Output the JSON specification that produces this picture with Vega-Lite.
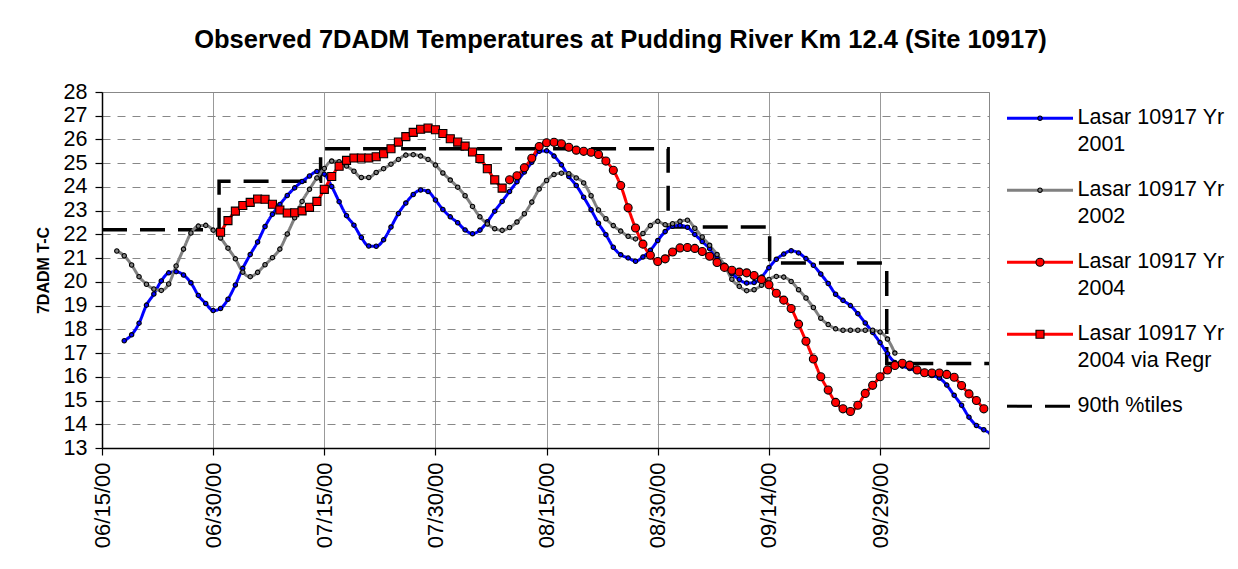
{
"$schema": "https://vega.github.io/schema/vega-lite/v6.json",
"width": 887, "height": 356,
"autosize": {"type": "none"},
"padding": {"left": 102, "top": 92, "right": 249, "bottom": 121},
"background": "white",
"title": {"text": "Observed 7DADM Temperatures at Pudding River Km 12.4 (Site 10917)", "font": "Liberation Sans", "fontSize": 25.5, "fontWeight": "bold", "color": "black", "anchor": "middle", "frame": "group", "dx": 75, "offset": 28},
"config": {"view": {"stroke": "#888", "strokeWidth": 1}, "font": "Liberation Sans"},
"datasets": {
"p90": [
{"s":"90th %tiles","d":0,"v":22.2},{"s":"90th %tiles","d":15.8,"v":24.24},{"s":"90th %tiles","d":29.5,"v":25.61},{"s":"90th %tiles","d":76.4,"v":22.31},{"s":"90th %tiles","d":90.1,"v":20.8},{"s":"90th %tiles","d":105.9,"v":16.56},{"s":"90th %tiles","d":119.7,"v":16.56}
],
"obs": [
{"s":"Lasar 10917 Yr 2001","d":3,"v":17.52},{"s":"Lasar 10917 Yr 2001","d":4,"v":17.77},{"s":"Lasar 10917 Yr 2001","d":5,"v":18.26},{"s":"Lasar 10917 Yr 2001","d":6,"v":19.02},{"s":"Lasar 10917 Yr 2001","d":7,"v":19.49},{"s":"Lasar 10917 Yr 2001","d":8,"v":20.04},{"s":"Lasar 10917 Yr 2001","d":9,"v":20.38},{"s":"Lasar 10917 Yr 2001","d":10,"v":20.43},{"s":"Lasar 10917 Yr 2001","d":11,"v":20.29},{"s":"Lasar 10917 Yr 2001","d":12,"v":19.96},{"s":"Lasar 10917 Yr 2001","d":13,"v":19.43},{"s":"Lasar 10917 Yr 2001","d":14,"v":19.09},{"s":"Lasar 10917 Yr 2001","d":15,"v":18.79},{"s":"Lasar 10917 Yr 2001","d":16,"v":18.88},{"s":"Lasar 10917 Yr 2001","d":17,"v":19.27},{"s":"Lasar 10917 Yr 2001","d":18,"v":19.87},{"s":"Lasar 10917 Yr 2001","d":19,"v":20.57},{"s":"Lasar 10917 Yr 2001","d":20,"v":21.15},{"s":"Lasar 10917 Yr 2001","d":21,"v":21.68},{"s":"Lasar 10917 Yr 2001","d":22,"v":22.33},{"s":"Lasar 10917 Yr 2001","d":23,"v":22.85},{"s":"Lasar 10917 Yr 2001","d":24,"v":23.26},{"s":"Lasar 10917 Yr 2001","d":25,"v":23.64},{"s":"Lasar 10917 Yr 2001","d":26,"v":23.96},{"s":"Lasar 10917 Yr 2001","d":27,"v":24.23},{"s":"Lasar 10917 Yr 2001","d":28,"v":24.46},{"s":"Lasar 10917 Yr 2001","d":29,"v":24.65},{"s":"Lasar 10917 Yr 2001","d":30,"v":24.54},{"s":"Lasar 10917 Yr 2001","d":31,"v":24.02},{"s":"Lasar 10917 Yr 2001","d":32,"v":23.38},{"s":"Lasar 10917 Yr 2001","d":33,"v":22.79},{"s":"Lasar 10917 Yr 2001","d":34,"v":22.39},{"s":"Lasar 10917 Yr 2001","d":35,"v":21.87},{"s":"Lasar 10917 Yr 2001","d":36,"v":21.51},{"s":"Lasar 10917 Yr 2001","d":37,"v":21.5},{"s":"Lasar 10917 Yr 2001","d":38,"v":21.77},{"s":"Lasar 10917 Yr 2001","d":39,"v":22.31},{"s":"Lasar 10917 Yr 2001","d":40,"v":22.88},{"s":"Lasar 10917 Yr 2001","d":41,"v":23.32},{"s":"Lasar 10917 Yr 2001","d":42,"v":23.68},{"s":"Lasar 10917 Yr 2001","d":43,"v":23.87},{"s":"Lasar 10917 Yr 2001","d":44,"v":23.81},{"s":"Lasar 10917 Yr 2001","d":45,"v":23.45},{"s":"Lasar 10917 Yr 2001","d":46,"v":23.05},{"s":"Lasar 10917 Yr 2001","d":47,"v":22.74},{"s":"Lasar 10917 Yr 2001","d":48,"v":22.49},{"s":"Lasar 10917 Yr 2001","d":49,"v":22.19},{"s":"Lasar 10917 Yr 2001","d":50,"v":22.03},{"s":"Lasar 10917 Yr 2001","d":51,"v":22.18},{"s":"Lasar 10917 Yr 2001","d":52,"v":22.53},{"s":"Lasar 10917 Yr 2001","d":53,"v":22.98},{"s":"Lasar 10917 Yr 2001","d":54,"v":23.39},{"s":"Lasar 10917 Yr 2001","d":55,"v":23.81},{"s":"Lasar 10917 Yr 2001","d":56,"v":24.22},{"s":"Lasar 10917 Yr 2001","d":57,"v":24.63},{"s":"Lasar 10917 Yr 2001","d":58,"v":25.04},{"s":"Lasar 10917 Yr 2001","d":59,"v":25.5},{"s":"Lasar 10917 Yr 2001","d":60,"v":25.52},{"s":"Lasar 10917 Yr 2001","d":61,"v":25.3},{"s":"Lasar 10917 Yr 2001","d":62,"v":24.93},{"s":"Lasar 10917 Yr 2001","d":63,"v":24.44},{"s":"Lasar 10917 Yr 2001","d":64,"v":24.06},{"s":"Lasar 10917 Yr 2001","d":65,"v":23.57},{"s":"Lasar 10917 Yr 2001","d":66,"v":23.04},{"s":"Lasar 10917 Yr 2001","d":67,"v":22.47},{"s":"Lasar 10917 Yr 2001","d":68,"v":21.99},{"s":"Lasar 10917 Yr 2001","d":69,"v":21.46},{"s":"Lasar 10917 Yr 2001","d":70,"v":21.14},{"s":"Lasar 10917 Yr 2001","d":71,"v":21.01},{"s":"Lasar 10917 Yr 2001","d":72,"v":20.87},{"s":"Lasar 10917 Yr 2001","d":73,"v":21.05},{"s":"Lasar 10917 Yr 2001","d":74,"v":21.33},{"s":"Lasar 10917 Yr 2001","d":75,"v":21.74},{"s":"Lasar 10917 Yr 2001","d":76,"v":22.12},{"s":"Lasar 10917 Yr 2001","d":77,"v":22.34},{"s":"Lasar 10917 Yr 2001","d":78,"v":22.38},{"s":"Lasar 10917 Yr 2001","d":79,"v":22.3},{"s":"Lasar 10917 Yr 2001","d":80,"v":22.0},{"s":"Lasar 10917 Yr 2001","d":81,"v":21.7},{"s":"Lasar 10917 Yr 2001","d":82,"v":21.4},{"s":"Lasar 10917 Yr 2001","d":83,"v":21.02},{"s":"Lasar 10917 Yr 2001","d":84,"v":20.68},{"s":"Lasar 10917 Yr 2001","d":85,"v":20.35},{"s":"Lasar 10917 Yr 2001","d":86,"v":20.1},{"s":"Lasar 10917 Yr 2001","d":87,"v":19.95},{"s":"Lasar 10917 Yr 2001","d":88,"v":19.97},{"s":"Lasar 10917 Yr 2001","d":89,"v":20.2},{"s":"Lasar 10917 Yr 2001","d":90,"v":20.6},{"s":"Lasar 10917 Yr 2001","d":91,"v":20.95},{"s":"Lasar 10917 Yr 2001","d":92,"v":21.17},{"s":"Lasar 10917 Yr 2001","d":93,"v":21.31},{"s":"Lasar 10917 Yr 2001","d":94,"v":21.22},{"s":"Lasar 10917 Yr 2001","d":95,"v":20.98},{"s":"Lasar 10917 Yr 2001","d":96,"v":20.7},{"s":"Lasar 10917 Yr 2001","d":97,"v":20.33},{"s":"Lasar 10917 Yr 2001","d":98,"v":19.93},{"s":"Lasar 10917 Yr 2001","d":99,"v":19.48},{"s":"Lasar 10917 Yr 2001","d":100,"v":19.22},{"s":"Lasar 10917 Yr 2001","d":101,"v":19.0},{"s":"Lasar 10917 Yr 2001","d":102,"v":18.66},{"s":"Lasar 10917 Yr 2001","d":103,"v":18.27},{"s":"Lasar 10917 Yr 2001","d":104,"v":17.87},{"s":"Lasar 10917 Yr 2001","d":105,"v":17.44},{"s":"Lasar 10917 Yr 2001","d":106,"v":16.97},{"s":"Lasar 10917 Yr 2001","d":107,"v":16.6},{"s":"Lasar 10917 Yr 2001","d":108,"v":16.45},{"s":"Lasar 10917 Yr 2001","d":109,"v":16.35},{"s":"Lasar 10917 Yr 2001","d":110,"v":16.25},{"s":"Lasar 10917 Yr 2001","d":111,"v":16.15},{"s":"Lasar 10917 Yr 2001","d":112,"v":16.05},{"s":"Lasar 10917 Yr 2001","d":113,"v":15.95},{"s":"Lasar 10917 Yr 2001","d":114,"v":15.65},{"s":"Lasar 10917 Yr 2001","d":115,"v":15.22},{"s":"Lasar 10917 Yr 2001","d":116,"v":14.8},{"s":"Lasar 10917 Yr 2001","d":117,"v":14.3},{"s":"Lasar 10917 Yr 2001","d":118,"v":13.95},{"s":"Lasar 10917 Yr 2001","d":119,"v":13.77},{"s":"Lasar 10917 Yr 2001","d":120,"v":13.6},
{"s":"Lasar 10917 Yr 2002","d":2,"v":21.3},{"s":"Lasar 10917 Yr 2002","d":3,"v":21.1},{"s":"Lasar 10917 Yr 2002","d":4,"v":20.71},{"s":"Lasar 10917 Yr 2002","d":5,"v":20.22},{"s":"Lasar 10917 Yr 2002","d":6,"v":19.9},{"s":"Lasar 10917 Yr 2002","d":7,"v":19.7},{"s":"Lasar 10917 Yr 2002","d":8,"v":19.64},{"s":"Lasar 10917 Yr 2002","d":9,"v":19.91},{"s":"Lasar 10917 Yr 2002","d":10,"v":20.67},{"s":"Lasar 10917 Yr 2002","d":11,"v":21.38},{"s":"Lasar 10917 Yr 2002","d":12,"v":22.06},{"s":"Lasar 10917 Yr 2002","d":13,"v":22.35},{"s":"Lasar 10917 Yr 2002","d":14,"v":22.38},{"s":"Lasar 10917 Yr 2002","d":15,"v":22.18},{"s":"Lasar 10917 Yr 2002","d":16,"v":21.85},{"s":"Lasar 10917 Yr 2002","d":17,"v":21.42},{"s":"Lasar 10917 Yr 2002","d":18,"v":20.97},{"s":"Lasar 10917 Yr 2002","d":19,"v":20.41},{"s":"Lasar 10917 Yr 2002","d":20,"v":20.22},{"s":"Lasar 10917 Yr 2002","d":21,"v":20.4},{"s":"Lasar 10917 Yr 2002","d":22,"v":20.72},{"s":"Lasar 10917 Yr 2002","d":23,"v":21.02},{"s":"Lasar 10917 Yr 2002","d":24,"v":21.38},{"s":"Lasar 10917 Yr 2002","d":25,"v":22.02},{"s":"Lasar 10917 Yr 2002","d":26,"v":22.7},{"s":"Lasar 10917 Yr 2002","d":27,"v":23.39},{"s":"Lasar 10917 Yr 2002","d":28,"v":23.9},{"s":"Lasar 10917 Yr 2002","d":29,"v":24.38},{"s":"Lasar 10917 Yr 2002","d":30,"v":24.78},{"s":"Lasar 10917 Yr 2002","d":31,"v":25.09},{"s":"Lasar 10917 Yr 2002","d":32,"v":25.06},{"s":"Lasar 10917 Yr 2002","d":33,"v":24.88},{"s":"Lasar 10917 Yr 2002","d":34,"v":24.66},{"s":"Lasar 10917 Yr 2002","d":35,"v":24.4},{"s":"Lasar 10917 Yr 2002","d":36,"v":24.4},{"s":"Lasar 10917 Yr 2002","d":37,"v":24.61},{"s":"Lasar 10917 Yr 2002","d":38,"v":24.77},{"s":"Lasar 10917 Yr 2002","d":39,"v":24.96},{"s":"Lasar 10917 Yr 2002","d":40,"v":25.16},{"s":"Lasar 10917 Yr 2002","d":41,"v":25.34},{"s":"Lasar 10917 Yr 2002","d":42,"v":25.36},{"s":"Lasar 10917 Yr 2002","d":43,"v":25.3},{"s":"Lasar 10917 Yr 2002","d":44,"v":25.16},{"s":"Lasar 10917 Yr 2002","d":45,"v":24.92},{"s":"Lasar 10917 Yr 2002","d":46,"v":24.59},{"s":"Lasar 10917 Yr 2002","d":47,"v":24.29},{"s":"Lasar 10917 Yr 2002","d":48,"v":23.99},{"s":"Lasar 10917 Yr 2002","d":49,"v":23.63},{"s":"Lasar 10917 Yr 2002","d":50,"v":23.18},{"s":"Lasar 10917 Yr 2002","d":51,"v":22.74},{"s":"Lasar 10917 Yr 2002","d":52,"v":22.44},{"s":"Lasar 10917 Yr 2002","d":53,"v":22.24},{"s":"Lasar 10917 Yr 2002","d":54,"v":22.17},{"s":"Lasar 10917 Yr 2002","d":55,"v":22.29},{"s":"Lasar 10917 Yr 2002","d":56,"v":22.52},{"s":"Lasar 10917 Yr 2002","d":57,"v":22.87},{"s":"Lasar 10917 Yr 2002","d":58,"v":23.36},{"s":"Lasar 10917 Yr 2002","d":59,"v":23.91},{"s":"Lasar 10917 Yr 2002","d":60,"v":24.27},{"s":"Lasar 10917 Yr 2002","d":61,"v":24.52},{"s":"Lasar 10917 Yr 2002","d":62,"v":24.58},{"s":"Lasar 10917 Yr 2002","d":63,"v":24.56},{"s":"Lasar 10917 Yr 2002","d":64,"v":24.38},{"s":"Lasar 10917 Yr 2002","d":65,"v":24.17},{"s":"Lasar 10917 Yr 2002","d":66,"v":23.63},{"s":"Lasar 10917 Yr 2002","d":67,"v":23.03},{"s":"Lasar 10917 Yr 2002","d":68,"v":22.66},{"s":"Lasar 10917 Yr 2002","d":69,"v":22.37},{"s":"Lasar 10917 Yr 2002","d":70,"v":22.14},{"s":"Lasar 10917 Yr 2002","d":71,"v":21.92},{"s":"Lasar 10917 Yr 2002","d":72,"v":21.81},{"s":"Lasar 10917 Yr 2002","d":73,"v":22.04},{"s":"Lasar 10917 Yr 2002","d":74,"v":22.37},{"s":"Lasar 10917 Yr 2002","d":75,"v":22.55},{"s":"Lasar 10917 Yr 2002","d":76,"v":22.41},{"s":"Lasar 10917 Yr 2002","d":77,"v":22.45},{"s":"Lasar 10917 Yr 2002","d":78,"v":22.55},{"s":"Lasar 10917 Yr 2002","d":79,"v":22.6},{"s":"Lasar 10917 Yr 2002","d":80,"v":22.26},{"s":"Lasar 10917 Yr 2002","d":81,"v":21.89},{"s":"Lasar 10917 Yr 2002","d":82,"v":21.54},{"s":"Lasar 10917 Yr 2002","d":83,"v":21.15},{"s":"Lasar 10917 Yr 2002","d":84,"v":20.7},{"s":"Lasar 10917 Yr 2002","d":85,"v":20.11},{"s":"Lasar 10917 Yr 2002","d":86,"v":19.81},{"s":"Lasar 10917 Yr 2002","d":87,"v":19.63},{"s":"Lasar 10917 Yr 2002","d":88,"v":19.67},{"s":"Lasar 10917 Yr 2002","d":89,"v":19.86},{"s":"Lasar 10917 Yr 2002","d":90,"v":20.1},{"s":"Lasar 10917 Yr 2002","d":91,"v":20.23},{"s":"Lasar 10917 Yr 2002","d":92,"v":20.2},{"s":"Lasar 10917 Yr 2002","d":93,"v":20.02},{"s":"Lasar 10917 Yr 2002","d":94,"v":19.67},{"s":"Lasar 10917 Yr 2002","d":95,"v":19.32},{"s":"Lasar 10917 Yr 2002","d":96,"v":18.92},{"s":"Lasar 10917 Yr 2002","d":97,"v":18.47},{"s":"Lasar 10917 Yr 2002","d":98,"v":18.2},{"s":"Lasar 10917 Yr 2002","d":99,"v":18.02},{"s":"Lasar 10917 Yr 2002","d":100,"v":17.96},{"s":"Lasar 10917 Yr 2002","d":101,"v":17.96},{"s":"Lasar 10917 Yr 2002","d":102,"v":17.96},{"s":"Lasar 10917 Yr 2002","d":103,"v":17.96},{"s":"Lasar 10917 Yr 2002","d":104,"v":17.96},{"s":"Lasar 10917 Yr 2002","d":105,"v":17.89},{"s":"Lasar 10917 Yr 2002","d":106,"v":17.59},{"s":"Lasar 10917 Yr 2002","d":107,"v":17.0},
{"s":"Lasar 10917 Yr 2004 via Regr","d":16,"v":22.09},{"s":"Lasar 10917 Yr 2004 via Regr","d":17,"v":22.58},{"s":"Lasar 10917 Yr 2004 via Regr","d":18,"v":22.98},{"s":"Lasar 10917 Yr 2004 via Regr","d":19,"v":23.22},{"s":"Lasar 10917 Yr 2004 via Regr","d":20,"v":23.35},{"s":"Lasar 10917 Yr 2004 via Regr","d":21,"v":23.49},{"s":"Lasar 10917 Yr 2004 via Regr","d":22,"v":23.48},{"s":"Lasar 10917 Yr 2004 via Regr","d":23,"v":23.27},{"s":"Lasar 10917 Yr 2004 via Regr","d":24,"v":23.03},{"s":"Lasar 10917 Yr 2004 via Regr","d":25,"v":22.9},{"s":"Lasar 10917 Yr 2004 via Regr","d":26,"v":22.91},{"s":"Lasar 10917 Yr 2004 via Regr","d":27,"v":22.99},{"s":"Lasar 10917 Yr 2004 via Regr","d":28,"v":23.14},{"s":"Lasar 10917 Yr 2004 via Regr","d":29,"v":23.39},{"s":"Lasar 10917 Yr 2004 via Regr","d":30,"v":23.9},{"s":"Lasar 10917 Yr 2004 via Regr","d":31,"v":24.44},{"s":"Lasar 10917 Yr 2004 via Regr","d":32,"v":24.87},{"s":"Lasar 10917 Yr 2004 via Regr","d":33,"v":25.12},{"s":"Lasar 10917 Yr 2004 via Regr","d":34,"v":25.22},{"s":"Lasar 10917 Yr 2004 via Regr","d":35,"v":25.22},{"s":"Lasar 10917 Yr 2004 via Regr","d":36,"v":25.22},{"s":"Lasar 10917 Yr 2004 via Regr","d":37,"v":25.27},{"s":"Lasar 10917 Yr 2004 via Regr","d":38,"v":25.4},{"s":"Lasar 10917 Yr 2004 via Regr","d":39,"v":25.61},{"s":"Lasar 10917 Yr 2004 via Regr","d":40,"v":25.89},{"s":"Lasar 10917 Yr 2004 via Regr","d":41,"v":26.12},{"s":"Lasar 10917 Yr 2004 via Regr","d":42,"v":26.3},{"s":"Lasar 10917 Yr 2004 via Regr","d":43,"v":26.43},{"s":"Lasar 10917 Yr 2004 via Regr","d":44,"v":26.48},{"s":"Lasar 10917 Yr 2004 via Regr","d":45,"v":26.41},{"s":"Lasar 10917 Yr 2004 via Regr","d":46,"v":26.25},{"s":"Lasar 10917 Yr 2004 via Regr","d":47,"v":26.03},{"s":"Lasar 10917 Yr 2004 via Regr","d":48,"v":25.89},{"s":"Lasar 10917 Yr 2004 via Regr","d":49,"v":25.72},{"s":"Lasar 10917 Yr 2004 via Regr","d":50,"v":25.47},{"s":"Lasar 10917 Yr 2004 via Regr","d":51,"v":25.2},{"s":"Lasar 10917 Yr 2004 via Regr","d":52,"v":24.77},{"s":"Lasar 10917 Yr 2004 via Regr","d":53,"v":24.3},{"s":"Lasar 10917 Yr 2004 via Regr","d":54,"v":23.95},
{"s":"Lasar 10917 Yr 2004","d":55,"v":24.3},{"s":"Lasar 10917 Yr 2004","d":56,"v":24.47},{"s":"Lasar 10917 Yr 2004","d":57,"v":24.81},{"s":"Lasar 10917 Yr 2004","d":58,"v":25.21},{"s":"Lasar 10917 Yr 2004","d":59,"v":25.7},{"s":"Lasar 10917 Yr 2004","d":60,"v":25.86},{"s":"Lasar 10917 Yr 2004","d":61,"v":25.88},{"s":"Lasar 10917 Yr 2004","d":62,"v":25.82},{"s":"Lasar 10917 Yr 2004","d":63,"v":25.67},{"s":"Lasar 10917 Yr 2004","d":64,"v":25.55},{"s":"Lasar 10917 Yr 2004","d":65,"v":25.5},{"s":"Lasar 10917 Yr 2004","d":66,"v":25.46},{"s":"Lasar 10917 Yr 2004","d":67,"v":25.37},{"s":"Lasar 10917 Yr 2004","d":68,"v":25.09},{"s":"Lasar 10917 Yr 2004","d":69,"v":24.7},{"s":"Lasar 10917 Yr 2004","d":70,"v":24.06},{"s":"Lasar 10917 Yr 2004","d":71,"v":23.12},{"s":"Lasar 10917 Yr 2004","d":72,"v":22.27},{"s":"Lasar 10917 Yr 2004","d":73,"v":21.59},{"s":"Lasar 10917 Yr 2004","d":74,"v":21.12},{"s":"Lasar 10917 Yr 2004","d":75,"v":20.86},{"s":"Lasar 10917 Yr 2004","d":76,"v":20.97},{"s":"Lasar 10917 Yr 2004","d":77,"v":21.26},{"s":"Lasar 10917 Yr 2004","d":78,"v":21.43},{"s":"Lasar 10917 Yr 2004","d":79,"v":21.45},{"s":"Lasar 10917 Yr 2004","d":80,"v":21.41},{"s":"Lasar 10917 Yr 2004","d":81,"v":21.28},{"s":"Lasar 10917 Yr 2004","d":82,"v":21.08},{"s":"Lasar 10917 Yr 2004","d":83,"v":20.82},{"s":"Lasar 10917 Yr 2004","d":84,"v":20.61},{"s":"Lasar 10917 Yr 2004","d":85,"v":20.49},{"s":"Lasar 10917 Yr 2004","d":86,"v":20.41},{"s":"Lasar 10917 Yr 2004","d":87,"v":20.38},{"s":"Lasar 10917 Yr 2004","d":88,"v":20.27},{"s":"Lasar 10917 Yr 2004","d":89,"v":20.1},{"s":"Lasar 10917 Yr 2004","d":90,"v":19.88},{"s":"Lasar 10917 Yr 2004","d":91,"v":19.52},{"s":"Lasar 10917 Yr 2004","d":92,"v":19.23},{"s":"Lasar 10917 Yr 2004","d":93,"v":18.88},{"s":"Lasar 10917 Yr 2004","d":94,"v":18.22},{"s":"Lasar 10917 Yr 2004","d":95,"v":17.5},{"s":"Lasar 10917 Yr 2004","d":96,"v":16.75},{"s":"Lasar 10917 Yr 2004","d":97,"v":16.0},{"s":"Lasar 10917 Yr 2004","d":98,"v":15.44},{"s":"Lasar 10917 Yr 2004","d":99,"v":14.92},{"s":"Lasar 10917 Yr 2004","d":100,"v":14.65},{"s":"Lasar 10917 Yr 2004","d":101,"v":14.54},{"s":"Lasar 10917 Yr 2004","d":102,"v":14.8},{"s":"Lasar 10917 Yr 2004","d":103,"v":15.3},{"s":"Lasar 10917 Yr 2004","d":104,"v":15.64},{"s":"Lasar 10917 Yr 2004","d":105,"v":16.0},{"s":"Lasar 10917 Yr 2004","d":106,"v":16.29},{"s":"Lasar 10917 Yr 2004","d":107,"v":16.48},{"s":"Lasar 10917 Yr 2004","d":108,"v":16.57},{"s":"Lasar 10917 Yr 2004","d":109,"v":16.49},{"s":"Lasar 10917 Yr 2004","d":110,"v":16.29},{"s":"Lasar 10917 Yr 2004","d":111,"v":16.17},{"s":"Lasar 10917 Yr 2004","d":112,"v":16.16},{"s":"Lasar 10917 Yr 2004","d":113,"v":16.16},{"s":"Lasar 10917 Yr 2004","d":114,"v":16.1},{"s":"Lasar 10917 Yr 2004","d":115,"v":15.98},{"s":"Lasar 10917 Yr 2004","d":116,"v":15.63},{"s":"Lasar 10917 Yr 2004","d":117,"v":15.28},{"s":"Lasar 10917 Yr 2004","d":118,"v":15.0},{"s":"Lasar 10917 Yr 2004","d":119,"v":14.65}
]
},
"encoding": {
"x": {"field": "d", "type": "quantitative", "scale": {"domain": [0, 119.7], "nice": false, "zero": false},
 "axis": {"title": null, "values": [0,15,30,45,60,75,90,105], "labelExpr": "['06/15/00','06/30/00','07/15/00','07/30/00','08/15/00','08/30/00','09/14/00','09/29/00'][round(datum.value/15)]", "labelAngle": 270, "labelAlign": "right", "labelBaseline": "middle", "labelFont": "Liberation Sans", "labelFontSize": 22, "labelColor": "black", "labelPadding": 7, "labelFlush": false, "labelOverlap": false, "tickColor": "black", "tickSize": 7, "tickWidth": 1.2, "domainColor": "black", "domainWidth": 1.5, "grid": true, "gridColor": "#999", "gridWidth": 1}},
"y": {"field": "v", "type": "quantitative", "scale": {"domain": [13, 28], "nice": false, "zero": false},
 "axis": {"title": "7DADM T-C", "titleFont": "Liberation Sans", "titleFontSize": 16, "titleFontWeight": "bold", "titleColor": "black", "titlePadding": 12, "values": [13,14,15,16,17,18,19,20,21,22,23,24,25,26,27,28], "labelFont": "Liberation Sans", "labelFontSize": 21.5, "labelColor": "black", "labelPadding": 8, "labelFlush": false, "labelOverlap": false, "tickColor": "black", "tickSize": 7, "tickWidth": 1.2, "domainColor": "black", "domainWidth": 1.5, "grid": true, "gridColor": "#888", "gridDash": [8, 7], "gridWidth": 1}}
},
"layer": [
{"data": {"name": "p90"},
 "mark": {"type": "line", "interpolate": "step-after", "strokeWidth": 3.5, "clip": true},
 "encoding": {
  "color": {"field": "s", "type": "nominal", "scale": {"domain": ["Lasar 10917 Yr 2001","Lasar 10917 Yr 2002","Lasar 10917 Yr 2004","Lasar 10917 Yr 2004 via Regr","90th %tiles"], "range": ["#0000FF","#808080","#FF0000","#FF0000","#000000"]},
   "legend": {"orient": "none", "legendX": 903.5, "legendY": -8.3, "title": null, "padding": 0, "symbolType": "stroke", "symbolSize": 4356, "symbolStrokeWidth": 3, "labelFont": "Liberation Sans", "labelFontSize": 21.5, "labelColor": "black", "labelBaseline": "top", "labelOffset": 3, "labelLimit": 400, "rowPadding": -1.3, "labelExpr": "split(replace(datum.label, 'Yr ', 'Yr|'), '|')", "encode": {"labels": {"update": {"dy": {"value": -11}, "lineHeight": {"value": 27}}}}}},
  "strokeDash": {"field": "s", "type": "nominal", "scale": {"domain": ["Lasar 10917 Yr 2001","Lasar 10917 Yr 2002","Lasar 10917 Yr 2004","Lasar 10917 Yr 2004 via Regr","90th %tiles"], "range": [[1,0],[1,0],[1,0],[1,0],[25,13]]},
   "legend": {"orient": "none", "legendX": 903.5, "legendY": -8.3, "title": null, "padding": 0, "symbolType": "stroke", "symbolSize": 4356, "symbolStrokeWidth": 3, "labelFont": "Liberation Sans", "labelFontSize": 21.5, "labelColor": "black", "labelBaseline": "top", "labelOffset": 3, "labelLimit": 400, "rowPadding": -1.3, "labelExpr": "split(replace(datum.label, 'Yr ', 'Yr|'), '|')", "encode": {"labels": {"update": {"dy": {"value": -11}, "lineHeight": {"value": 27}}}}}}
 }},
{"data": {"name": "obs"},
 "mark": {"type": "line", "interpolate": "monotone", "strokeWidth": 3, "clip": true},
 "encoding": {
  "color": {"field": "s", "type": "nominal", "scale": {"domain": ["Lasar 10917 Yr 2001","Lasar 10917 Yr 2002","Lasar 10917 Yr 2004","Lasar 10917 Yr 2004 via Regr","90th %tiles"], "range": ["#0000FF","#808080","#FF0000","#FF0000","#000000"]},
   "legend": {"orient": "none", "legendX": 903.5, "legendY": -8.3, "title": null, "padding": 0, "symbolType": "stroke", "symbolSize": 4356, "symbolStrokeWidth": 3, "labelFont": "Liberation Sans", "labelFontSize": 21.5, "labelColor": "black", "labelBaseline": "top", "labelOffset": 3, "labelLimit": 400, "rowPadding": -1.3, "labelExpr": "split(replace(datum.label, 'Yr ', 'Yr|'), '|')", "encode": {"labels": {"update": {"dy": {"value": -11}, "lineHeight": {"value": 27}}}}}},
  "strokeDash": {"field": "s", "type": "nominal", "scale": {"domain": ["Lasar 10917 Yr 2001","Lasar 10917 Yr 2002","Lasar 10917 Yr 2004","Lasar 10917 Yr 2004 via Regr","90th %tiles"], "range": [[1,0],[1,0],[1,0],[1,0],[25,13]]},
   "legend": {"orient": "none", "legendX": 903.5, "legendY": -8.3, "title": null, "padding": 0, "symbolType": "stroke", "symbolSize": 4356, "symbolStrokeWidth": 3, "labelFont": "Liberation Sans", "labelFontSize": 21.5, "labelColor": "black", "labelBaseline": "top", "labelOffset": 3, "labelLimit": 400, "rowPadding": -1.3, "labelExpr": "split(replace(datum.label, 'Yr ', 'Yr|'), '|')", "encode": {"labels": {"update": {"dy": {"value": -11}, "lineHeight": {"value": 27}}}}}}
 }},
{"data": {"name": "obs"},
 "mark": {"type": "point", "filled": true, "opacity": 1, "size": 4489, "stroke": "black", "strokeWidth": 1.1, "clip": true},
 "encoding": {
  "fill": {"field": "s", "type": "nominal", "scale": {"domain": ["Lasar 10917 Yr 2001","Lasar 10917 Yr 2002","Lasar 10917 Yr 2004","Lasar 10917 Yr 2004 via Regr"], "range": ["#0000FF","#808080","#FF0000","#FF0000"]},
   "legend": {"orient": "none", "legendX": 903.5, "legendY": -8.3, "title": null, "padding": 0, "symbolSize": 4489, "symbolStrokeWidth": 1.1, "symbolStrokeColor": "black", "symbolOpacity": 1, "labelFont": "Liberation Sans", "labelFontSize": 21.5, "labelOpacity": 0, "labelBaseline": "top", "labelOffset": 3, "labelLimit": 400, "rowPadding": -1.3, "labelExpr": "split(replace(datum.label, 'Yr ', 'Yr|'), '|')", "encode": {"labels": {"update": {"dy": {"value": -11}, "lineHeight": {"value": 27}}}}}},
  "shape": {"field": "s", "type": "nominal", "scale": {"domain": ["Lasar 10917 Yr 2001","Lasar 10917 Yr 2002","Lasar 10917 Yr 2004","Lasar 10917 Yr 2004 via Regr"], "range": ["M-1,0M1,0M0.066,0A0.066,0.066,0,1,1,-0.066,0A0.066,0.066,0,1,1,0.066,0Z","M-1,0M1,0M0.066,0A0.066,0.066,0,1,1,-0.066,0A0.066,0.066,0,1,1,0.066,0Z","M-1,0M1,0M0.12,0A0.12,0.12,0,1,1,-0.12,0A0.12,0.12,0,1,1,0.12,0Z","M-1,0M1,0M-0.12,-0.12H0.12V0.12H-0.12Z"]},
   "legend": {"orient": "none", "legendX": 903.5, "legendY": -8.3, "title": null, "padding": 0, "symbolSize": 4489, "symbolStrokeWidth": 1.1, "symbolStrokeColor": "black", "symbolOpacity": 1, "labelFont": "Liberation Sans", "labelFontSize": 21.5, "labelOpacity": 0, "labelBaseline": "top", "labelOffset": 3, "labelLimit": 400, "rowPadding": -1.3, "labelExpr": "split(replace(datum.label, 'Yr ', 'Yr|'), '|')", "encode": {"labels": {"update": {"dy": {"value": -11}, "lineHeight": {"value": 27}}}}}}
 }}
]
}
